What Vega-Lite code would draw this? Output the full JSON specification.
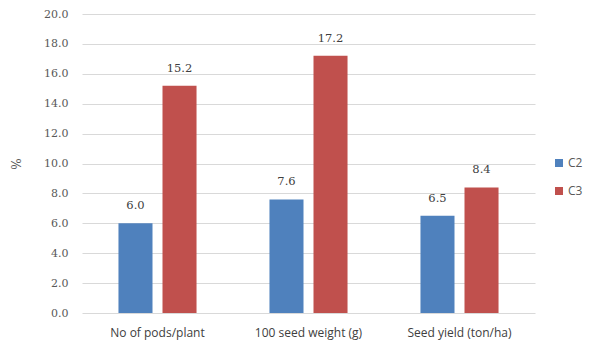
{
  "$schema": "https://vega.github.io/schema/vega-lite/v6.json",
  "width": 453,
  "height": 299,
  "autosize": "none",
  "padding": {"left": 82, "top": 14, "right": 57, "bottom": 37},
  "background": "white",
  "data": {
    "values": [
      {"trait": "No of pods/plant", "series": "C2", "value": 6.0},
      {"trait": "No of pods/plant", "series": "C3", "value": 15.2},
      {"trait": "100  seed weight (g)", "series": "C2", "value": 7.6},
      {"trait": "100  seed weight (g)", "series": "C3", "value": 17.2},
      {"trait": "Seed yield (ton/ha)", "series": "C2", "value": 6.5},
      {"trait": "Seed yield (ton/ha)", "series": "C3", "value": 8.4}
    ]
  },
  "config": {
    "view": {"stroke": null},
    "font": "Liberation Sans"
  },
  "encoding": {
    "x": {
      "field": "trait",
      "type": "nominal",
      "sort": null,
      "scale": {"paddingInner": 0.483, "paddingOuter": 0.2415},
      "axis": {
        "title": null,
        "labelAngle": 0,
        "ticks": false,
        "domain": false,
        "labelPadding": 14,
        "labelFontSize": 12,
        "labelColor": "#404040",
        "labelFont": "Open Sans"
      }
    },
    "xOffset": {
      "field": "series",
      "type": "nominal",
      "scale": {"paddingInner": 0.227, "paddingOuter": 0}
    },
    "y": {
      "field": "value",
      "type": "quantitative",
      "scale": {"domain": [0, 20], "nice": false},
      "axis": {
        "title": "%",
        "titleFont": "DejaVu Serif",
        "titleFontWeight": "normal",
        "titleFontSize": 12,
        "titleColor": "#595959",
        "titlePadding": 20,
        "values": [0, 2, 4, 6, 8, 10, 12, 14, 16, 18, 20],
        "format": ".1f",
        "ticks": false,
        "domain": false,
        "labelPadding": 14,
        "labelFont": "DejaVu Serif",
        "labelFontSize": 11,
        "labelColor": "#595959",
        "gridColor": "#d9d9d9",
        "gridWidth": 1
      }
    },
    "color": {
      "field": "series",
      "type": "nominal",
      "scale": {"domain": ["C2", "C3"], "range": ["#4F81BD", "#C0504D"]},
      "legend": {
        "title": null,
        "orient": "none",
        "legendX": 471,
        "legendY": 143,
        "symbolType": "square",
        "symbolSize": 64,
        "symbolStrokeWidth": 0,
        "rowPadding": 16,
        "labelFontSize": 12,
        "labelColor": "#595959",
        "labelFont": "Open Sans",
        "labelOffset": 3
      }
    }
  },
  "layer": [
    {"mark": {"type": "bar", "opacity": 1}},
    {
      "mark": {"type": "text", "dy": -12, "fontSize": 11.5, "color": "#404040", "font": "DejaVu Serif", "baseline": "bottom"},
      "encoding": {
        "text": {"field": "value", "type": "quantitative", "format": ".1f"},
        "color": {"value": "#404040"}
      }
    }
  ]
}
